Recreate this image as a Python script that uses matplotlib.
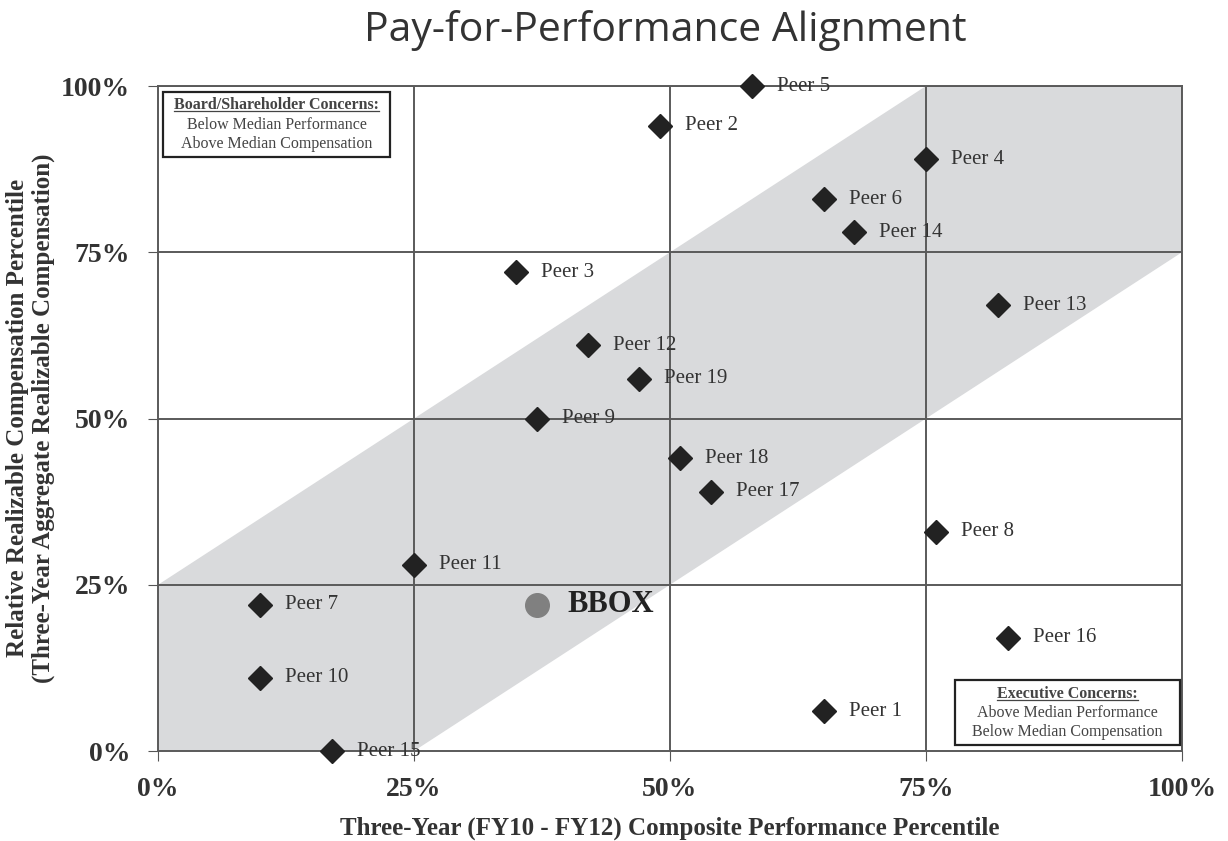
import matplotlib.pyplot as plt
from matplotlib.patches import Rectangle
from matplotlib.ticker import FuncFormatter

# peer data: (performance percentile, compensation percentile)
peer_names = ['Peer 1', 'Peer 2', 'Peer 3', 'Peer 4', 'Peer 5', 'Peer 6', 'Peer 7',
              'Peer 8', 'Peer 9', 'Peer 10', 'Peer 11', 'Peer 12', 'Peer 13',
              'Peer 14', 'Peer 15', 'Peer 16', 'Peer 17', 'Peer 18', 'Peer 19']
peer_perf = [65, 49, 35, 75, 58, 65, 10, 76, 37, 10, 25, 42, 82, 68, 17, 83, 54, 51, 47]
peer_comp = [6, 94, 72, 89, 100, 83, 22, 33, 50, 11, 28, 61, 67, 78, 0, 17, 39, 44, 56]

company = 'BBOX'
company_perf = 37
company_comp = 22

# alignment band: +/- 25 percentile points around the diagonal
band_x = [0, 75, 100, 100, 25, 0]
band_y = [25, 100, 100, 75, 0, 0]

serif = 'Liberation Serif'
dark = '#333333'

fig = plt.figure(figsize=(12.28, 8.41), dpi=100)
ax = fig.add_axes([0.1287, 0.107, 0.8338, 0.7907])

ax.fill(band_x, band_y, color='#d9dadc', lw=0, zorder=0)

for v in [25, 50, 75, 100]:
    ax.axhline(v, color='#5a5a5a', lw=1.4, zorder=1)
    ax.axvline(v, color='#5a5a5a', lw=1.4, zorder=1)

ax.plot(peer_perf, peer_comp, 'D', color='#222222', ms=12, zorder=3, clip_on=False)
for name, px, py in zip(peer_names, peer_perf, peer_comp):
    ax.annotate(name, (px, py), xytext=(18, 0), textcoords='offset points',
                va='center', ha='left', family=serif, fontsize=15,
                color=dark, zorder=4)

ax.plot([company_perf], [company_comp], 'o', color='#808080', ms=17, zorder=3)
ax.annotate(company, (company_perf, company_comp), xytext=(22, 0), textcoords='offset points',
            va='center', ha='left', family=serif, fontsize=22,
            fontweight='bold', color='#222222')

ax.set_xlim(0, 100)
ax.set_ylim(0, 100)
ax.set_xticks([0, 25, 50, 75, 100])
ax.set_yticks([0, 25, 50, 75, 100])
pct = FuncFormatter(lambda v, p: f'{int(v)}%')
ax.xaxis.set_major_formatter(pct)
ax.yaxis.set_major_formatter(pct)
for lab in ax.get_xticklabels() + ax.get_yticklabels():
    lab.set_family(serif)
    lab.set_fontweight('bold')
    lab.set_fontsize(20)
    lab.set_color(dark)
ax.tick_params(axis='x', length=7, color='#555555', pad=12)
ax.tick_params(axis='y', length=7, color='#555555', pad=13)
for s in ax.spines.values():
    s.set_color('#5a5a5a')
    s.set_linewidth(1.4)

fig.text(0.545, 0.0155, 'Three-Year (FY10 - FY12) Composite Performance Percentile',
         ha='center', va='center', family=serif, fontweight='bold', fontsize=18,
         color=dark)
fig.text(0.025, 0.503,
         'Relative Realizable Compensation Percentile\n(Three-Year Aggregate Realizable Compensation)',
         ha='center', va='center', rotation=90, family=serif, fontweight='bold',
         fontsize=18, color=dark, linespacing=1.15)

fig.text(0.542, 0.964, 'Pay-for-Performance Alignment', ha='center', va='center',
         family='Open Sans', fontsize=29.5, color=dark)


def concern_box(x0, x1, y0, y1, heading, lines, yc):
    ax.add_patch(Rectangle((x0, y0), x1 - x0, y1 - y0, fc='white', ec='#222222',
                           lw=1.6, zorder=5))
    xc = (x0 + x1) / 2
    t = ax.text(xc, yc[0], heading, ha='center', va='center', family=serif,
                fontsize=11.5, fontweight='bold', color='#444444', zorder=6)
    for txt, y in zip(lines, yc[1:]):
        ax.text(xc, y, txt, ha='center', va='center', family=serif,
                fontsize=11.5, color='#444444', zorder=6)
    # underline the heading
    fig.canvas.draw()
    bb = t.get_window_extent().transformed(ax.transData.inverted())
    ax.plot([bb.x0, bb.x1], [bb.y0 + 0.25, bb.y0 + 0.25], color='#444444',
            lw=0.9, zorder=6)


concern_box(0.5, 22.7, 89.3, 99.1, 'Board/Shareholder Concerns:',
            ['Below Median Performance', 'Above Median Compensation'],
            [97.2, 94.2, 91.3])
concern_box(77.8, 99.8, 0.9, 10.7, 'Executive Concerns:',
            ['Above Median Performance', 'Below Median Compensation'],
            [8.6, 5.7, 2.9])

fig.savefig('out.png', dpi=100)
